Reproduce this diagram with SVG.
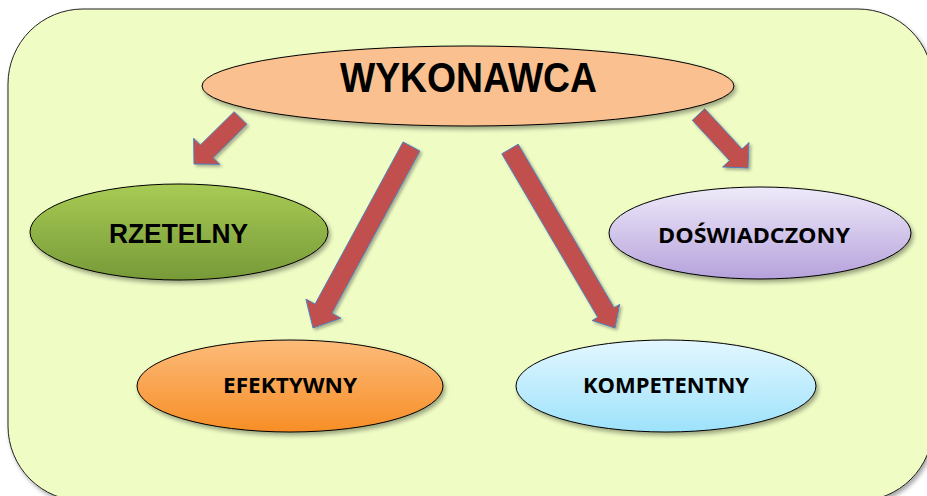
<svg xmlns="http://www.w3.org/2000/svg" width="927" height="496" viewBox="0 0 927 496">
  <defs>
    <filter id="shadow" x="-20%" y="-20%" width="140%" height="150%">
      <feDropShadow dx="2" dy="3" stdDeviation="2" flood-color="#000" flood-opacity="0.35"/>
    </filter>
    <filter id="ashadow" x="-20%" y="-20%" width="140%" height="140%">
      <feDropShadow dx="2" dy="2" stdDeviation="1.5" flood-color="#000" flood-opacity="0.3"/>
    </filter>
    <linearGradient id="gGreen" x1="0" y1="0" x2="0" y2="1">
      <stop offset="0" stop-color="#A8CB55"/>
      <stop offset="1" stop-color="#779A38"/>
    </linearGradient>
    <linearGradient id="gLav" x1="0" y1="0" x2="0" y2="1">
      <stop offset="0" stop-color="#EEEAF9"/>
      <stop offset="1" stop-color="#B6A2DC"/>
    </linearGradient>
    <linearGradient id="gOrange" x1="0" y1="0" x2="0" y2="1">
      <stop offset="0" stop-color="#FCBB7A"/>
      <stop offset="1" stop-color="#F78E26"/>
    </linearGradient>
    <linearGradient id="gBlue" x1="0" y1="0" x2="0" y2="1">
      <stop offset="0" stop-color="#E3F7FF"/>
      <stop offset="1" stop-color="#9DE2FB"/>
    </linearGradient>
  </defs>
  <style>
    .node { stroke: #000; stroke-width: 1; filter: url(#shadow); }
    .arrow { fill: #C0504D; stroke: #4F81BD; stroke-width: 1; stroke-linejoin: miter; filter: url(#ashadow); }
    .t1 { font-family: "Liberation Sans", Arial, sans-serif; font-weight: bold; fill: #000; text-anchor: middle; }
    .t2 { font-family: "Open Sans", "Noto Sans", sans-serif; font-weight: bold; fill: #000; text-anchor: middle; }
  </style>

  <rect id="background" x="8" y="9" width="925" height="492" rx="75" ry="75" fill="#EFFCC4" stroke="#222" stroke-width="1" filter="url(#shadow)"/>

  <g id="connectors">
    <polygon class="arrow" points="246.86,124.36 213.09,157.63 219.81,164.35 194,164 193.65,138.19 200.37,144.91 234.14,111.64"/>
    <polygon class="arrow" points="419.94,151.08 331.93,313.24 341.07,318.2 313,328 305.91,299.12 315.05,304.08 403.06,141.92"/>
    <polygon class="arrow" points="518.2,144.19 614.09,307.66 619.7,304.37 615,328 592.08,320.57 597.69,317.28 501.8,153.81"/>
    <polygon class="arrow" points="704.74,108.73 742.02,149.02 748.99,142.57 748,168 722.57,167.01 729.54,160.56 692.26,120.27"/>
  </g>

  <g id="wykonawca">
    <ellipse class="node" cx="468" cy="86" rx="266" ry="40" fill="#FAC08F"/>
    <text class="t1" x="468.5" y="92" font-size="42" textLength="257" lengthAdjust="spacingAndGlyphs">WYKONAWCA</text>
  </g>

  <g id="rzetelny">
    <ellipse class="node" cx="179" cy="232" rx="149" ry="48" fill="url(#gGreen)"/>
    <text class="t1" x="178.5" y="243" font-size="27" textLength="139" lengthAdjust="spacingAndGlyphs">RZETELNY</text>
  </g>

  <g id="doswiadczony">
    <ellipse class="node" cx="760" cy="233" rx="151" ry="46" fill="url(#gLav)"/>
    <text class="t2" x="754" y="243" font-size="21" textLength="192" lengthAdjust="spacingAndGlyphs">DOŚWIADCZONY</text>
  </g>

  <g id="efektywny">
    <ellipse class="node" cx="290" cy="386" rx="153" ry="46" fill="url(#gOrange)"/>
    <text class="t2" x="290" y="393" font-size="21" textLength="134" lengthAdjust="spacingAndGlyphs">EFEKTYWNY</text>
  </g>

  <g id="kompetentny">
    <ellipse class="node" cx="666" cy="386" rx="150" ry="46" fill="url(#gBlue)"/>
    <text class="t2" x="666" y="393" font-size="21" textLength="166" lengthAdjust="spacingAndGlyphs">KOMPETENTNY</text>
  </g>
</svg>
